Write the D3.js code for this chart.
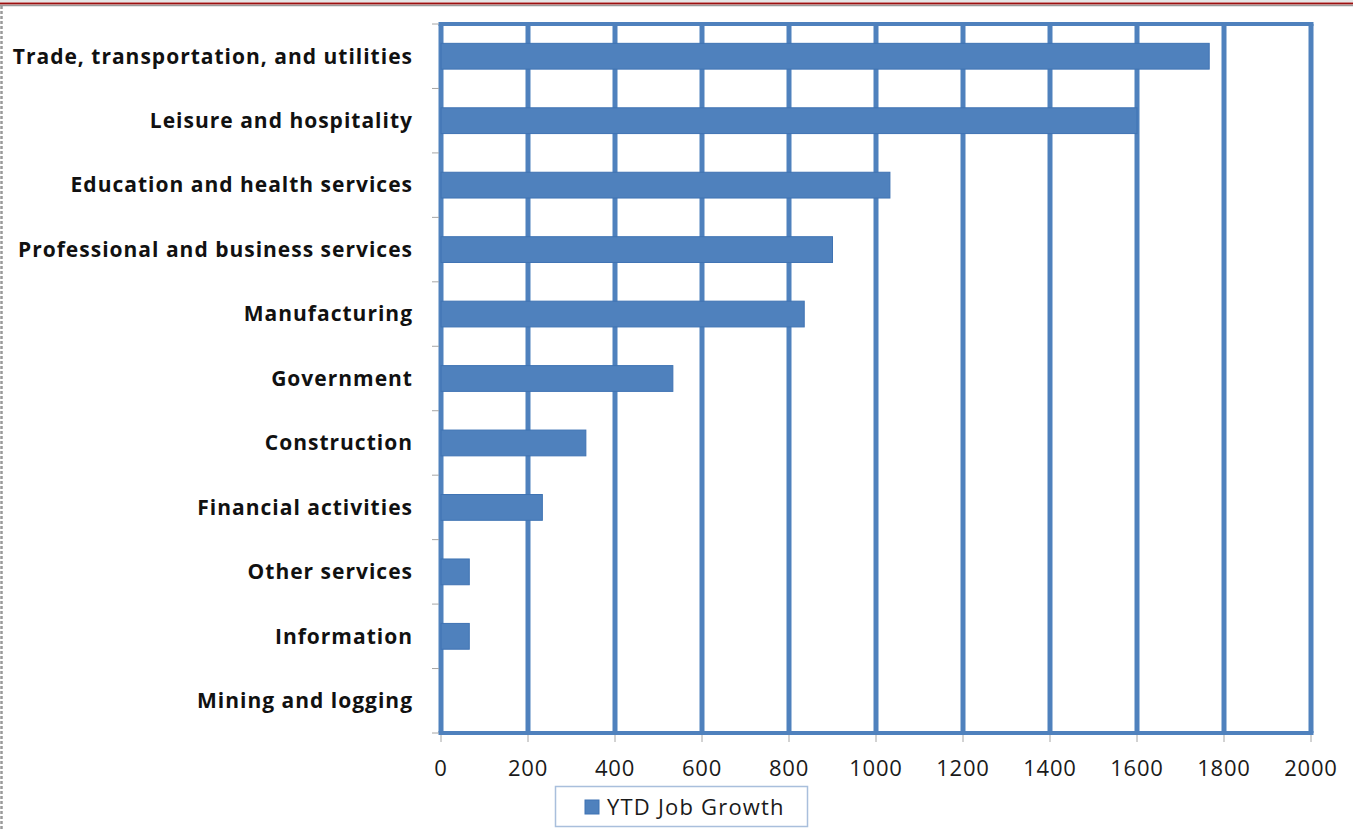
<!DOCTYPE html>
<html>
<head>
<meta charset="utf-8">
<script src="https://cdn.jsdelivr.net/npm/d3@7"></script>
<style>
  body { margin: 0; background: #fff; }
  svg { display: block; }
</style>
</head>
<body>
<svg id="chart" width="1353" height="831"></svg>
<script>
const categories = [
  "Trade, transportation, and utilities",
  "Leisure and hospitality",
  "Education and health services",
  "Professional and business services",
  "Manufacturing",
  "Government",
  "Construction",
  "Financial activities",
  "Other services",
  "Information",
  "Mining and logging"
];
const jobGrowth = [1766, 1600, 1032, 900, 835, 533, 333, 233, 65, 65, 0];
const xTicks = [0, 200, 400, 600, 800, 1000, 1200, 1400, 1600, 1800, 2000];
const seriesName = "YTD Job Growth";

const blue = "#4f81bd";
const font = "'Open Sans', sans-serif";
const svg = d3.select("#chart");

// page frame: red rule on top, dashed grey edge on left
svg.append("rect").attr("x", 0).attr("y", 0).attr("width", 1353).attr("height", 2).attr("fill", "#e6e6e6");
svg.append("line").attr("x1", 0).attr("x2", 1353).attr("y1", 3.5).attr("y2", 3.5)
  .attr("stroke", "#9c1010").attr("stroke-width", 2);
svg.append("line").attr("x1", 0).attr("x2", 1353).attr("y1", 5.5).attr("y2", 5.5)
  .attr("stroke", "#9a9a9a").attr("stroke-width", 1.5);
svg.append("line").attr("x1", 1.5).attr("x2", 1.5).attr("y1", 6).attr("y2", 831)
  .attr("stroke", "#9a9a9a").attr("stroke-width", 2.5).attr("stroke-dasharray", "3,2");

const plotLeft = 441, plotRight = 1311, plotTop = 24, plotBottom = 733;

const x = d3.scaleLinear().domain([0, 2000]).range([plotLeft, plotRight]);
const y = d3.scaleBand().domain(categories).range([plotTop, plotBottom]).paddingInner(0.6).paddingOuter(0.3);
const yOuter = d3.scaleBand().domain(categories).range([plotTop, plotBottom]);

// vertical gridlines
svg.append("g").selectAll("line")
  .data(xTicks)
  .join("line")
  .attr("x1", d => x(d)).attr("x2", d => x(d))
  .attr("y1", plotTop).attr("y2", plotBottom)
  .attr("stroke", blue).attr("stroke-width", 5);

// plot border top
svg.append("line").attr("x1", plotLeft - 2.5).attr("x2", plotRight + 2.5).attr("y1", plotTop).attr("y2", plotTop)
  .attr("stroke", blue).attr("stroke-width", 4);

// bars
svg.append("g").selectAll("rect")
  .data(categories)
  .join("rect")
  .attr("x", x(0))
  .attr("y", d => y(d))
  .attr("width", (d, i) => x(jobGrowth[i]) - x(0))
  .attr("height", y.bandwidth())
  .attr("fill", blue)
  .attr("stroke", "#3f73b3")
  .attr("stroke-width", 1);

// bottom axis line
svg.append("line").attr("x1", plotLeft - 2.5).attr("x2", plotRight + 2.5).attr("y1", plotBottom).attr("y2", plotBottom)
  .attr("stroke", blue).attr("stroke-width", 4);

// left category ticks (band boundaries)
const bounds = categories.map(c => yOuter(c)).concat([plotBottom]);
svg.append("g").selectAll("line")
  .data(bounds)
  .join("line")
  .attr("x1", plotLeft - 9).attr("x2", plotLeft - 2)
  .attr("y1", d => d).attr("y2", d => d)
  .attr("stroke", "#a6a6a6").attr("stroke-width", 1);

// bottom ticks
svg.append("g").selectAll("line")
  .data(xTicks)
  .join("line")
  .attr("x1", d => x(d)).attr("x2", d => x(d))
  .attr("y1", plotBottom + 2).attr("y2", plotBottom + 9)
  .attr("stroke", "#a6a6a6").attr("stroke-width", 1);

// x tick labels
svg.append("g").selectAll("text")
  .data(xTicks)
  .join("text")
  .attr("x", d => x(d))
  .attr("y", 776)
  .attr("text-anchor", "middle")
  .attr("font-family", font)
  .attr("font-size", 22)
  .attr("letter-spacing", 0.8)
  .attr("fill", "#1a1a1a")
  .text(d => d);

// category labels
svg.append("g").selectAll("text")
  .data(categories)
  .join("text")
  .attr("x", 413)
  .attr("y", d => yOuter(d) + yOuter.bandwidth() / 2)
  .attr("dy", "0.35em")
  .attr("text-anchor", "end")
  .attr("font-family", font)
  .attr("font-weight", "bold")
  .attr("font-size", 21)
  .attr("letter-spacing", 1)
  .attr("fill", "#111")
  .text(d => d);

// legend
const lg = svg.append("g");
lg.append("rect").attr("x", 555.5).attr("y", 786.5).attr("width", 252).attr("height", 40)
  .attr("fill", "#fff").attr("stroke", "#a9bfdc").attr("stroke-width", 1.5);
lg.append("rect").attr("x", 585).attr("y", 800).attr("width", 14).attr("height", 14)
  .attr("fill", blue).attr("stroke", "#3f73b3");
lg.append("text").attr("x", 607).attr("y", 807).attr("dy", "0.35em")
  .attr("font-family", font).attr("font-size", 22).attr("letter-spacing", 1.2).attr("fill", "#1a1a1a")
  .text(seriesName);
</script>
</body>
</html>
